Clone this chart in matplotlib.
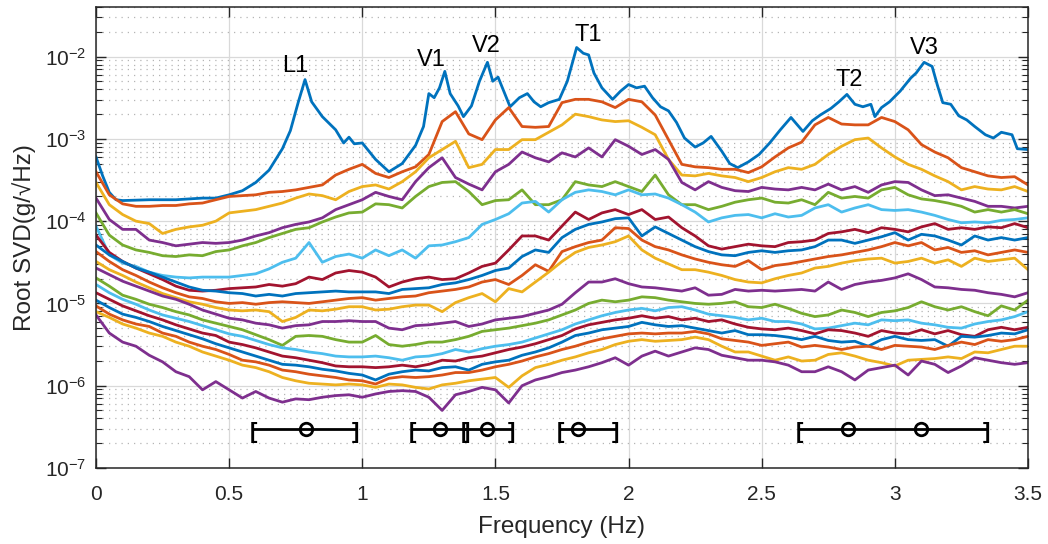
import numpy as np
import matplotlib
matplotlib.use("Agg")
import matplotlib.pyplot as plt
from matplotlib.ticker import LogLocator, FixedLocator

# ---- data (log10 of root singular values) ----
freq = np.round(np.arange(0, 3.5001, 0.05), 3)

# first singular value, read on a finer, irregular grid (sharp peaks)
s1_freq = [0, 0.025, 0.05, 0.075, 0.1, 0.2, 0.3, 0.4, 0.45, 0.5, 0.55, 0.6, 0.65, 0.7, 0.73,
           0.76, 0.785, 0.81, 0.85, 0.9, 0.93, 0.95, 0.97, 1.0, 1.05, 1.1, 1.15, 1.2, 1.23, 1.25,
           1.27, 1.29, 1.31, 1.33, 1.36, 1.38, 1.41, 1.44, 1.47, 1.49, 1.51, 1.535, 1.555, 1.59, 1.62,
           1.645, 1.67, 1.7, 1.74, 1.77, 1.805, 1.83, 1.85, 1.87, 1.9, 1.94, 1.97, 2.0, 2.03, 2.06,
           2.09, 2.12, 2.15, 2.18, 2.21, 2.25, 2.28, 2.31, 2.35, 2.38, 2.41, 2.45, 2.49, 2.53, 2.57,
           2.61, 2.655, 2.69, 2.72, 2.76, 2.79, 2.82, 2.85, 2.88, 2.91, 2.925, 2.95, 2.98, 3.02, 3.06,
           3.08, 3.11, 3.14, 3.16, 3.18, 3.21, 3.24, 3.27, 3.3, 3.34, 3.37, 3.4, 3.44, 3.46, 3.5]
s1 = [-3.22, -3.45, -3.65, -3.74, -3.75, -3.74, -3.74, -3.72, -3.72, -3.68, -3.63, -3.53, -3.38, -3.12, -2.9,
      -2.55, -2.28, -2.55, -2.73, -2.89, -3.05, -2.98, -3.06, -3.05, -3.25, -3.4, -3.3, -3.08, -2.85, -2.45,
      -2.5, -2.38, -2.18, -2.45, -2.6, -2.73, -2.6, -2.3, -2.07, -2.3, -2.25, -2.45, -2.61, -2.5, -2.45,
      -2.55, -2.61, -2.56, -2.52, -2.3, -1.89, -1.96, -1.98, -2.2, -2.38, -2.52, -2.42, -2.34, -2.38, -2.36,
      -2.5, -2.61, -2.66, -2.8, -2.99, -3.1, -3.05, -2.97, -3.15, -3.3, -3.35, -3.28, -3.19, -3.05, -2.89,
      -2.74, -2.91, -2.78, -2.71, -2.63, -2.55, -2.46, -2.58, -2.61, -2.58, -2.73, -2.62, -2.55, -2.42, -2.26,
      -2.2, -2.07, -2.12, -2.35, -2.56, -2.58, -2.72, -2.77, -2.85, -2.95, -2.99, -2.92, -2.95, -3.12, -3.13]

# the other singular values on the 0.05 Hz grid
s2 = [-3.40, -3.68, -3.79, -3.82, -3.82, -3.81, -3.81, -3.79, -3.78, -3.74,
      -3.70, -3.69, -3.68, -3.65, -3.64, -3.62, -3.59, -3.56, -3.44, -3.37,
      -3.31, -3.42, -3.47, -3.40, -3.34, -3.19, -2.79, -2.67, -2.94, -3.01,
      -2.77, -2.62, -2.85, -2.86, -2.85, -2.56, -2.52, -2.52, -2.55, -2.62,
      -2.52, -2.55, -2.71, -3.01, -3.31, -3.34, -3.35, -3.37, -3.37, -3.41,
      -3.34, -3.22, -3.11, -3.04, -2.83, -2.74, -2.82, -2.83, -2.83, -2.74,
      -2.79, -2.89, -3.07, -3.16, -3.23, -3.35, -3.40, -3.45, -3.47, -3.46, -3.56]
s3 = [-3.53, -3.80, -3.92, -4.00, -4.03, -4.15, -4.10, -4.07, -4.05, -4.00,
      -3.90, -3.88, -3.86, -3.82, -3.78, -3.72, -3.67, -3.69, -3.74, -3.64,
      -3.58, -3.56, -3.61, -3.52, -3.40, -3.23, -3.13, -3.03, -3.35, -3.31,
      -3.13, -3.13, -3.01, -3.01, -2.92, -2.83, -2.70, -2.73, -2.77, -2.79,
      -2.78, -2.86, -2.95, -3.25, -3.44, -3.45, -3.42, -3.45, -3.47, -3.52,
      -3.47, -3.40, -3.35, -3.37, -3.31, -3.19, -3.09, -3.01, -2.99, -3.11,
      -3.22, -3.31, -3.37, -3.45, -3.52, -3.62, -3.58, -3.61, -3.62, -3.58, -3.64]
s4 = [-3.72, -3.98, -4.10, -4.10, -4.23, -4.26, -4.30, -4.28, -4.26, -4.27,
      -4.26, -4.23, -4.18, -4.14, -4.08, -4.04, -4.01, -3.96, -3.86, -3.80,
      -3.74, -3.65, -3.70, -3.74, -3.52, -3.35, -3.23, -3.47, -3.55, -3.62,
      -3.40, -3.31, -3.16, -3.23, -3.28, -3.17, -3.22, -3.11, -3.22, -3.01,
      -3.09, -3.19, -3.13, -3.25, -3.53, -3.62, -3.52, -3.59, -3.63, -3.64,
      -3.59, -3.61, -3.62, -3.59, -3.62, -3.55, -3.62, -3.58, -3.65, -3.56,
      -3.52, -3.53, -3.62, -3.69, -3.68, -3.72, -3.76, -3.82, -3.82, -3.84, -3.82]
s5 = [-3.90, -4.17, -4.29, -4.35, -4.38, -4.42, -4.43, -4.41, -4.42, -4.37,
      -4.35, -4.30, -4.26, -4.20, -4.15, -4.10, -4.08, -4.01, -3.95, -3.90,
      -3.89, -3.79, -3.80, -3.84, -3.70, -3.58, -3.53, -3.52, -3.64, -3.80,
      -3.75, -3.74, -3.62, -3.80, -3.80, -3.74, -3.52, -3.56, -3.58, -3.52,
      -3.58, -3.64, -3.44, -3.68, -3.80, -3.80, -3.86, -3.82, -3.77, -3.74,
      -3.72, -3.77, -3.78, -3.74, -3.80, -3.65, -3.72, -3.70, -3.72, -3.62,
      -3.59, -3.68, -3.73, -3.75, -3.78, -3.82, -3.89, -3.86, -3.89, -3.86, -3.91]
s6 = [-4.06, -4.41, -4.51, -4.55, -4.62, -4.66, -4.68, -4.69, -4.68, -4.68,
      -4.68, -4.66, -4.64, -4.58, -4.50, -4.45, -4.26, -4.50, -4.43, -4.40,
      -4.45, -4.35, -4.42, -4.35, -4.45, -4.30, -4.29, -4.25, -4.20, -4.04,
      -3.98, -3.91, -3.78, -3.76, -3.89, -3.74, -3.65, -3.62, -3.64, -3.68,
      -3.62, -3.68, -3.67, -3.72, -3.80, -3.89, -4.01, -3.96, -3.93, -3.92,
      -3.96, -3.91, -3.95, -3.93, -3.84, -3.80, -3.89, -3.84, -3.80, -3.86,
      -3.87, -3.86, -3.89, -3.93, -3.98, -4.02, -4.01, -4.02, -3.99, -3.98, -3.96]
s7 = [-4.17, -4.38, -4.49, -4.57, -4.64, -4.71, -4.79, -4.84, -4.85, -4.84,
      -4.82, -4.81, -4.80, -4.77, -4.79, -4.76, -4.68, -4.71, -4.63, -4.60,
      -4.62, -4.68, -4.80, -4.74, -4.70, -4.68, -4.71, -4.70, -4.63, -4.55,
      -4.51, -4.35, -4.18, -4.18, -4.23, -4.06, -3.89, -3.98, -3.90, -3.86,
      -3.92, -3.86, -3.98, -3.95, -4.08, -4.18, -4.30, -4.34, -4.31, -4.28,
      -4.30, -4.31, -4.26, -4.25, -4.23, -4.15, -4.13, -4.10, -4.14, -4.08,
      -4.10, -4.13, -4.07, -4.03, -4.10, -4.08, -4.10, -4.07, -4.08, -4.03, -4.08]
s8 = [-4.29, -4.41, -4.49, -4.57, -4.62, -4.68, -4.74, -4.80, -4.84, -4.85,
      -4.87, -4.88, -4.91, -4.89, -4.91, -4.88, -4.87, -4.86, -4.85, -4.86,
      -4.86, -4.86, -4.88, -4.83, -4.82, -4.81, -4.77, -4.75, -4.71, -4.66,
      -4.60, -4.57, -4.43, -4.35, -4.38, -4.20, -4.10, -4.04, -4.01, -3.97,
      -3.96, -4.18, -4.07, -4.15, -4.23, -4.31, -4.37, -4.41, -4.42, -4.38,
      -4.36, -4.38, -4.36, -4.35, -4.31, -4.23, -4.23, -4.27, -4.23, -4.19,
      -4.14, -4.23, -4.16, -4.18, -4.23, -4.29, -4.18, -4.23, -4.20, -4.23, -4.20]
s9 = [-4.37, -4.49, -4.59, -4.66, -4.74, -4.81, -4.87, -4.92, -4.94, -4.98,
      -5.00, -4.99, -5.01, -4.99, -4.98, -4.99, -5.00, -4.98, -4.96, -4.94,
      -4.93, -4.96, -4.94, -4.92, -4.91, -4.87, -4.85, -4.83, -4.80, -4.74,
      -4.71, -4.77, -4.66, -4.53, -4.61, -4.37, -4.31, -4.26, -4.23, -4.08,
      -4.09, -4.23, -4.31, -4.35, -4.41, -4.46, -4.50, -4.53, -4.55, -4.48,
      -4.59, -4.54, -4.52, -4.49, -4.46, -4.43, -4.41, -4.38, -4.35, -4.31,
      -4.26, -4.30, -4.26, -4.35, -4.32, -4.38, -4.36, -4.41, -4.38, -4.35, -4.38]
s10 = [-4.49, -4.59, -4.66, -4.74, -4.81, -4.88, -4.93, -4.98, -5.01, -5.05,
       -5.08, -5.09, -5.08, -5.10, -5.22, -5.17, -5.08, -5.09, -5.07, -5.04,
       -5.04, -5.08, -5.07, -5.04, -5.02, -5.02, -5.10, -4.99, -4.93, -4.88,
       -4.98, -4.82, -4.86, -4.74, -4.62, -4.49, -4.38, -4.32, -4.29, -4.25,
       -4.18, -4.35, -4.45, -4.52, -4.59, -4.59, -4.62, -4.66, -4.71, -4.74,
       -4.75, -4.70, -4.66, -4.63, -4.57, -4.55, -4.51, -4.48, -4.46, -4.45,
       -4.51, -4.49, -4.45, -4.51, -4.47, -4.55, -4.45, -4.49, -4.47, -4.45, -4.59]
s11 = [-4.57, -4.65, -4.73, -4.79, -4.85, -4.91, -4.95, -5.01, -5.08, -5.13,
       -5.18, -5.20, -5.24, -5.26, -5.30, -5.27, -5.26, -5.22, -5.22, -5.21,
       -5.22, -5.22, -5.30, -5.32, -5.27, -5.26, -5.24, -5.22, -5.28, -5.25,
       -5.20, -5.18, -5.16, -5.12, -5.08, -5.01, -4.87, -4.74, -4.74, -4.70,
       -4.76, -4.80, -4.81, -4.83, -4.85, -4.81, -4.90, -4.89, -4.83, -4.85,
       -4.84, -4.85, -4.84, -4.83, -4.85, -4.74, -4.83, -4.77, -4.74, -4.72,
       -4.69, -4.64, -4.71, -4.80, -4.81, -4.83, -4.84, -4.87, -4.89, -4.92, -4.87]
s12 = [-4.69, -4.79, -4.90, -4.95, -5.01, -5.05, -5.10, -5.14, -5.20, -5.24,
       -5.28, -5.32, -5.38, -5.44, -5.51, -5.40, -5.39, -5.40, -5.44, -5.47,
       -5.47, -5.39, -5.50, -5.52, -5.50, -5.47, -5.47, -5.44, -5.40, -5.34,
       -5.32, -5.30, -5.27, -5.24, -5.20, -5.14, -5.08, -5.00, -4.96, -4.98,
       -4.96, -4.92, -4.93, -4.96, -4.98, -5.00, -5.01, -5.00, -4.98, -5.04,
       -5.05, -5.01, -5.06, -5.12, -5.16, -5.14, -5.08, -5.11, -5.16, -5.11,
       -5.09, -5.05, -4.98, -5.04, -5.08, -5.04, -5.10, -5.15, -5.03, -5.08, -4.96]
s13 = [-4.77, -4.87, -4.95, -5.01, -5.08, -5.14, -5.18, -5.22, -5.27, -5.32,
       -5.37, -5.40, -5.45, -5.50, -5.54, -5.56, -5.59, -5.61, -5.64, -5.65,
       -5.65, -5.64, -5.66, -5.69, -5.65, -5.64, -5.61, -5.56, -5.59, -5.55,
       -5.52, -5.50, -5.47, -5.42, -5.37, -5.32, -5.25, -5.20, -5.15, -5.11,
       -5.08, -5.06, -5.09, -5.05, -5.04, -5.08, -5.13, -5.15, -5.17, -5.20,
       -5.18, -5.22, -5.22, -5.25, -5.31, -5.30, -5.27, -5.24, -5.26, -5.20,
       -5.21, -5.20, -5.24, -5.26, -5.29, -5.30, -5.25, -5.22, -5.20, -5.16, -5.10]
s14 = [-4.87, -4.95, -5.03, -5.09, -5.15, -5.20, -5.26, -5.31, -5.36, -5.39,
       -5.47, -5.50, -5.54, -5.59, -5.64, -5.66, -5.69, -5.72, -5.76, -5.77,
       -5.77, -5.78, -5.77, -5.75, -5.77, -5.74, -5.69, -5.70, -5.66, -5.64,
       -5.60, -5.56, -5.53, -5.49, -5.44, -5.39, -5.31, -5.26, -5.23, -5.20,
       -5.18, -5.15, -5.18, -5.16, -5.20, -5.18, -5.22, -5.20, -5.25, -5.29,
       -5.31, -5.32, -5.30, -5.33, -5.37, -5.32, -5.33, -5.36, -5.40, -5.33,
       -5.36, -5.37, -5.32, -5.37, -5.33, -5.38, -5.40, -5.32, -5.29, -5.32, -5.29]
s15 = [-4.96, -5.05, -5.13, -5.17, -5.22, -5.28, -5.33, -5.38, -5.43, -5.49,
       -5.54, -5.59, -5.64, -5.69, -5.74, -5.75, -5.77, -5.80, -5.82, -5.85,
       -5.87, -5.93, -5.86, -5.83, -5.81, -5.82, -5.78, -5.77, -5.81, -5.74,
       -5.71, -5.69, -5.63, -5.59, -5.54, -5.47, -5.39, -5.36, -5.32, -5.30,
       -5.28, -5.23, -5.26, -5.28, -5.27, -5.30, -5.33, -5.36, -5.33, -5.38,
       -5.38, -5.39, -5.41, -5.44, -5.40, -5.45, -5.47, -5.46, -5.52, -5.44,
       -5.40, -5.44, -5.45, -5.44, -5.52, -5.40, -5.41, -5.39, -5.36, -5.37, -5.32]
s16 = [-5.03, -5.13, -5.20, -5.25, -5.28, -5.36, -5.40, -5.47, -5.52, -5.56,
       -5.62, -5.69, -5.71, -5.75, -5.81, -5.83, -5.86, -5.88, -5.90, -5.93,
       -5.94, -5.98, -5.91, -5.89, -5.90, -5.89, -5.87, -5.84, -5.84, -5.81,
       -5.77, -5.74, -5.70, -5.65, -5.61, -5.56, -5.52, -5.47, -5.43, -5.40,
       -5.37, -5.36, -5.37, -5.36, -5.36, -5.34, -5.37, -5.43, -5.45, -5.47,
       -5.51, -5.49, -5.47, -5.53, -5.51, -5.53, -5.56, -5.53, -5.52, -5.56,
       -5.51, -5.52, -5.53, -5.56, -5.51, -5.47, -5.50, -5.44, -5.46, -5.44, -5.40]
s17 = [-5.10, -5.17, -5.25, -5.30, -5.36, -5.40, -5.47, -5.52, -5.59, -5.64,
       -5.69, -5.75, -5.78, -5.83, -5.90, -5.94, -5.97, -5.98, -5.99, -5.98,
       -5.99, -6.02, -5.98, -5.99, -6.02, -6.04, -5.99, -5.97, -5.94, -5.92,
       -5.90, -6.02, -5.88, -5.78, -5.74, -5.69, -5.65, -5.60, -5.56, -5.50,
       -5.46, -5.44, -5.46, -5.45, -5.44, -5.41, -5.44, -5.52, -5.59, -5.59,
       -5.64, -5.69, -5.65, -5.70, -5.69, -5.62, -5.60, -5.64, -5.69, -5.72,
       -5.76, -5.69, -5.68, -5.67, -5.65, -5.67, -5.59, -5.60, -5.56, -5.52, -5.52]
s18 = [-5.14, -5.36, -5.47, -5.52, -5.63, -5.71, -5.83, -5.89, -6.05, -5.95,
       -6.05, -6.15, -6.07, -6.15, -6.20, -6.16, -6.17, -6.14, -6.12, -6.11,
       -6.14, -6.10, -6.07, -6.06, -6.07, -6.14, -6.30, -6.11, -6.07, -6.02,
       -6.05, -6.21, -6.00, -5.93, -5.89, -5.84, -5.81, -5.77, -5.72, -5.66,
       -5.75, -5.64, -5.58, -5.64, -5.59, -5.54, -5.56, -5.63, -5.66, -5.69,
       -5.69, -5.71, -5.75, -5.83, -5.83, -5.77, -5.83, -5.93, -5.81, -5.78,
       -5.75, -5.87, -5.70, -5.74, -5.84, -5.76, -5.66, -5.69, -5.72, -5.74, -5.72]

# identified modes: labels, label anchor (Hz, log10), peak frequencies and bracket ranges
mode_names = ["L1", "V1", "V2", "T1", "T2", "V3"]
mode_label_f = [0.75, 1.26, 1.465, 1.85, 2.83, 3.11]
mode_label_log = [-2.12, -2.04, -1.87, -1.74, -2.28, -1.89]
mode_freq = [0.79, 1.29, 1.47, 1.81, 2.825, 3.10]
range_lo = [0.59, 1.19, 1.385, 1.745, 2.64]
range_hi = [0.975, 1.39, 1.56, 1.95, 3.345]
bar_level = 3e-7

# ---- style ----
plt.rcParams["font.family"] = ["Liberation Sans", "DejaVu Sans"]
plt.rcParams["mathtext.fontset"] = "custom"
plt.rcParams["mathtext.rm"] = "Liberation Sans"
plt.rcParams["mathtext.default"] = "regular"

matlab_colors = ["#0072BD", "#D95319", "#EDB120", "#7E2F8E", "#77AC30", "#4DBEEE", "#A2142F"]
dark = "#262626"

fig = plt.figure(figsize=(10.48, 5.44), dpi=100)
ax = fig.add_axes([0.0916, 0.1397, 0.8893, 0.8474])

ax.plot(s1_freq, 10 ** np.array(s1), color=matlab_colors[0], lw=2.0)
others = [s2, s3, s4, s5, s6, s7, s8, s9, s10, s11, s12, s13, s14, s15, s16, s17, s18]
for i, sv in enumerate(others, start=1):
    ax.plot(freq, 10 ** np.array(sv), color=matlab_colors[i % 7], lw=2.0)

# mode ranges with brackets and peak markers
for lo, hi in zip(range_lo, range_hi):
    ax.plot([lo, hi], [bar_level, bar_level], color="k", lw=2.0, zorder=5)
    ax.text(lo, bar_level * 0.9, "[", ha="center", va="center", fontsize=16,
            fontweight="bold", color="k", zorder=5)
    ax.text(hi, bar_level * 0.9, "]", ha="center", va="center", fontsize=16,
            fontweight="bold", color="k", zorder=5)
ax.plot(mode_freq, [bar_level] * len(mode_freq), "o", mfc="none", mec="k",
        ms=9, mew=2.0, zorder=6)

for name, fx, fy in zip(mode_names, mode_label_f, mode_label_log):
    ax.text(fx, 10 ** fy, name, ha="center", va="center", fontsize=17, color="k")

ax.set_yscale("log")
ax.set_xlim(0, 3.5)
ax.set_ylim(1e-7, 4e-2)
ax.xaxis.set_major_locator(FixedLocator(np.arange(0, 3.51, 0.5)))
ax.set_xticklabels(["0", "0.5", "1", "1.5", "2", "2.5", "3", "3.5"])
ax.yaxis.set_major_locator(LogLocator(base=10, numticks=20))
ax.yaxis.set_minor_locator(LogLocator(base=10, subs=np.arange(2, 10), numticks=20))

ax.grid(True, which="major", color="#d9d9d9", lw=0.9)
ax.grid(True, which="minor", axis="y", color="#b5b5b5", lw=0.9, ls=(0, (1, 4)))
ax.set_axisbelow(True)

ax.tick_params(which="both", direction="in", top=True, right=True, color=dark,
               labelcolor=dark, labelsize=15)
ax.tick_params(which="major", length=7, width=1.0)
ax.tick_params(axis="x", which="major", pad=12)
ax.tick_params(axis="y", which="major", pad=7)
ax.tick_params(which="minor", length=4, width=0.8)
for sp in ax.spines.values():
    sp.set_color(dark)
    sp.set_linewidth(1.1)

ax.set_xlabel("Frequency (Hz)", fontsize=17.5, color=dark, labelpad=9)
ax.set_ylabel("Root SVD(g/\u221aHz)", fontsize=17.5, color=dark, labelpad=6)

fig.savefig("out.png", dpi=100)
plt.close(fig)
